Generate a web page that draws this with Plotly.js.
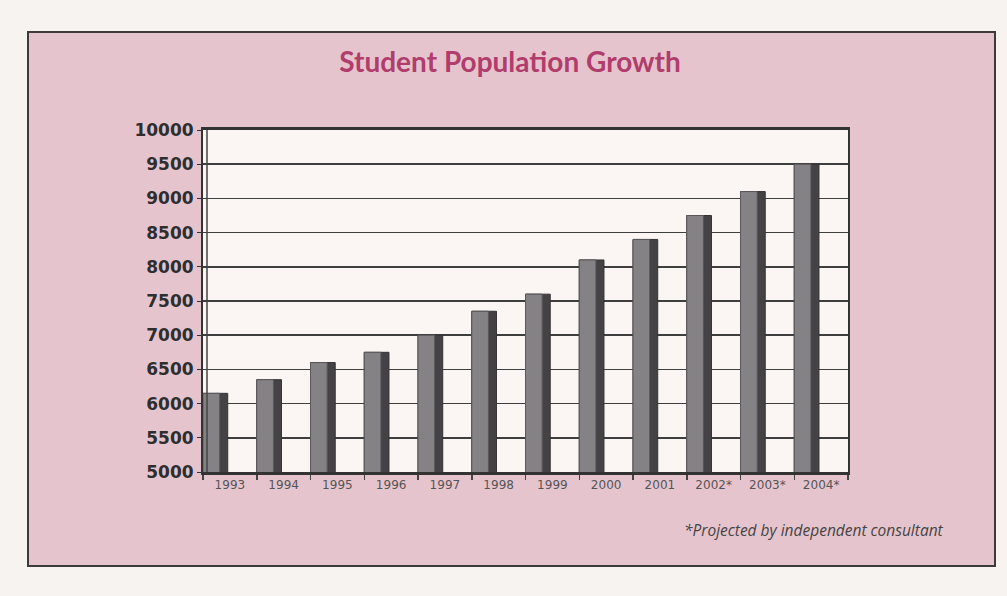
<!DOCTYPE html>
<html>
<head>
<meta charset="utf-8">
<script src="https://cdn.plot.ly/plotly-3.0.1.min.js"></script>
<style>
  html, body { margin: 0; padding: 0; background: #f7f3f1; }
  #chart { width: 1007px; height: 596px; }
</style>
</head>
<body>
<div id="chart"></div>
<script>
// Data
const years = ["1993","1994","1995","1996","1997","1998","1999","2000","2001","2002*","2003*","2004*"];
const students = [6150, 6350, 6600, 6750, 7000, 7350, 7600, 8100, 8400, 8750, 9100, 9500];
const yTicks = [5000, 5500, 6000, 6500, 7000, 7500, 8000, 8500, 9000, 9500, 10000];
const chartTitle = "Student Population Growth";
const footnote = "*Projected by independent consultant";

// Plot geometry (pixels)
const W = 1007, H = 596;
const L = 203, R = 848, T = 130, B = 472;
const pw = R - L, ph = B - T;
const px = v => (v - L) / pw;
const py = v => (B - v) / ph;

const sideTrace = {
  type: "bar", x: years, y: students,
  offset: -0.5, width: 0.46,
  marker: { color: "#454245", line: { color: "#353235", width: 1 } },
  hoverinfo: "skip", showlegend: false
};
const frontTrace = {
  type: "bar", x: years, y: students,
  offset: -0.5, width: 0.31,
  marker: { color: "#858285", line: { color: "#5a575a", width: 1 } },
  showlegend: false
};

const layout = {
  width: W, height: H,
  margin: { l: L, r: W - R, t: T, b: H - B, pad: 0 },
  paper_bgcolor: "#f7f3f1",
  plot_bgcolor: "rgba(0,0,0,0)",
  barmode: "overlay",
  showlegend: false,
  title: {
    text: "<b>" + chartTitle + "</b>",
    x: 510 / W, xanchor: "center",
    y: 1 - 62 / H, yanchor: "middle",
    font: { family: "Lato, 'Open Sans', sans-serif", size: 28, color: "#b03d6c" }
  },
  xaxis: {
    type: "category",
    range: [-0.5, years.length - 0.5],
    showgrid: false,
    showline: true, linecolor: "#333", linewidth: 3, mirror: true,
    ticks: "outside", tickson: "boundaries", ticklen: 5, tickcolor: "#444", tickwidth: 1.5,
    tickfont: { family: "'DejaVu Sans', sans-serif", size: 12, color: "#555" },
    fixedrange: true
  },
  yaxis: {
    range: [5000, 10000],
    tickvals: yTicks,
    ticktext: yTicks.map(String),
    showgrid: true, gridcolor: "#3e3e3e", gridwidth: 1.6,
    showline: true, linecolor: "#333", linewidth: 2, mirror: true,
    ticks: "outside", ticklen: 4, tickcolor: "#333",
    tickfont: { family: "'DejaVu Sans', sans-serif", size: 17, color: "#2e2e2e", weight: "bold" },
    zeroline: false,
    fixedrange: true
  },
  shapes: [
    { type: "rect", xref: "paper", yref: "paper", layer: "below",
      x0: px(28), x1: px(995), y0: py(566), y1: py(32),
      fillcolor: "#e6c4cd", line: { color: "#3d3a3c", width: 2 } },
    { type: "rect", xref: "paper", yref: "paper", layer: "below",
      x0: 0, x1: 1, y0: 0, y1: 1,
      fillcolor: "#fbf6f4", line: { width: 0 } },
    { type: "line", xref: "paper", yref: "paper", layer: "above",
      x0: px(207), x1: px(207), y0: 0, y1: 1,
      line: { color: "#444", width: 1.5 } }
  ],
  annotations: [
    { xref: "paper", yref: "paper", x: px(946), y: py(530),
      xanchor: "right", yanchor: "middle", showarrow: false,
      text: "<i>" + footnote + "</i>",
      font: { family: "'Open Sans', sans-serif", size: 15.5, color: "#444" } }
  ]
};

Plotly.newPlot("chart", [sideTrace, frontTrace], layout, { staticPlot: true, displayModeBar: false });
</script>
</body>
</html>
